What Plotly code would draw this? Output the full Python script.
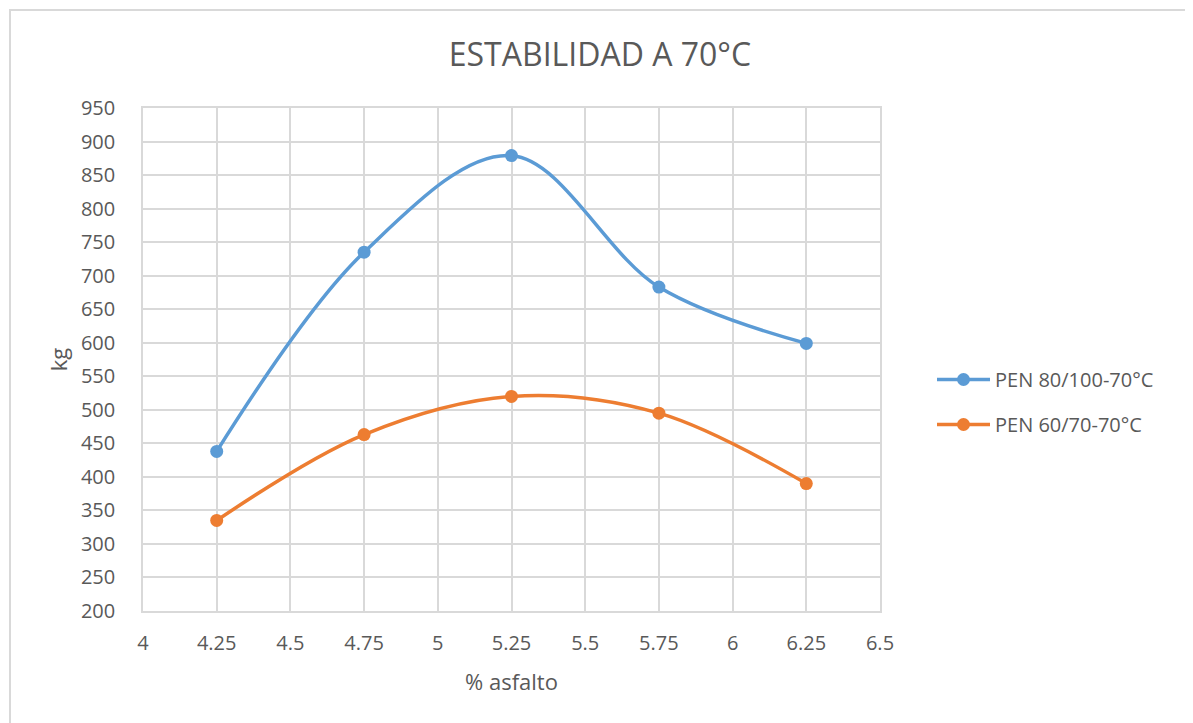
import plotly.graph_objects as go

asfalto = [4.25, 4.75, 5.25, 5.75, 6.25]
pen_80_100 = [438, 735, 879, 683, 599]
pen_60_70 = [335, 463, 520, 495, 390]
series_names = ["PEN 80/100-70°C", "PEN 60/70-70°C"]
colors = ["#5B9BD5", "#ED7D31"]

FONT = "Open Sans"
TXT = "#595959"
GRID = "#D9D9D9"

fig = go.Figure()
for i, (name, vals, col) in enumerate(zip(series_names, [pen_80_100, pen_60_70], colors)):
    fig.add_trace(go.Scatter(
        x=asfalto, y=vals, name=name, mode="lines+markers", legendgroup=f"g{i}",
        line=dict(color=col, width=3.5, shape="spline", smoothing=1.0),
        marker=dict(color=col, size=13),
    ))

# page has an 8px body margin, so the figure is drawn 8px smaller / offset
W, H = 1185, 715
L, T = 135, 100
R = W - 872
B = H - 603
pw, ph = W - L - R, H - T - B

fig.add_shape(type="rect", xref="paper", yref="paper",
              x0=(2 - L) / pw, x1=(1181 - L) / pw,
              y0=-0.3, y1=(H - B - 2) / ph,
              line=dict(color="#D9D9D9", width=2), layer="below")

fig.update_layout(
    width=W, height=H,
    margin=dict(l=L, r=R, t=T, b=B),
    paper_bgcolor="white", plot_bgcolor="white",
    font=dict(family=FONT, color=TXT, size=20),
    title=dict(text="ESTABILIDAD A 70°C", x=(600 - 8) / W, xref="container", xanchor="center",
               y=1 - 47 / H, yref="container", yanchor="middle",
               font=dict(size=32, color=TXT, family=FONT)),
    xaxis=dict(range=[4, 6.5], tickvals=[4, 4.25, 4.5, 4.75, 5, 5.25, 5.5, 5.75, 6, 6.25, 6.5],
               ticktext=["4", "4.25", "4.5", "4.75", "5", "5.25", "5.5", "5.75", "6", "6.25", "6.5"],
               showgrid=True, gridcolor=GRID, gridwidth=1.5,
               showline=True, linecolor=GRID, linewidth=1.5, mirror=True,
               zeroline=False, ticks="", ticklabelstandoff=13,
               tickfont=dict(size=20, color=TXT),
               title=dict(text="% asfalto", font=dict(size=22, color=TXT), standoff=20)),
    yaxis=dict(range=[200, 950], dtick=50, tick0=200,
               showgrid=True, gridcolor=GRID, gridwidth=1.5,
               showline=True, linecolor=GRID, linewidth=1.5, mirror=True,
               zeroline=False, ticks="", ticklabelstandoff=22,
               tickfont=dict(size=20, color=TXT),
               title=dict(text="kg", font=dict(size=22, color=TXT), standoff=7)),
    legend=dict(x=(924 - L) / pw, xanchor="left", y=(H - B - 352) / ph, yanchor="top",
                font=dict(size=20, color=TXT), itemwidth=53, tracegroupgap=16,
                bgcolor="rgba(0,0,0,0)"),
    showlegend=True,
)

fig.write_html("out.html")
